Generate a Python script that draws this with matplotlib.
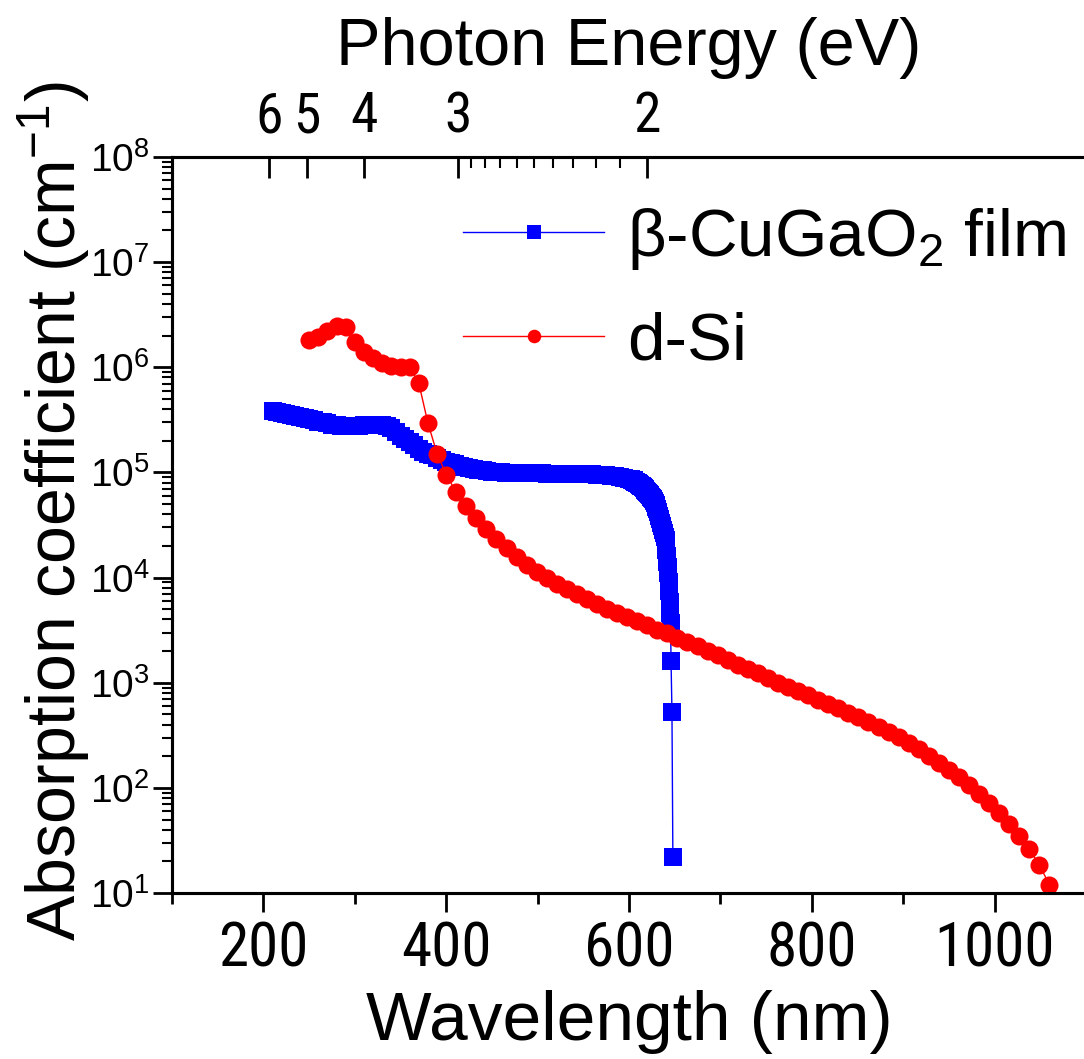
import numpy as np
import matplotlib
matplotlib.use('Agg')
import matplotlib.pyplot as plt
from matplotlib import font_manager as fm
from matplotlib.ticker import FixedLocator, LogLocator, NullFormatter

# ---------------- data ----------------
cugao_wl = [210, 215, 220, 225, 230, 235, 240, 245, 250, 255, 260, 265, 270, 275,
            280, 285, 290, 295, 300, 305, 310, 315, 320, 325, 330, 335, 340, 345,
            350, 355, 360, 365, 370, 375, 380, 385, 390, 395, 400, 405, 410, 415,
            420, 425, 430, 435, 440, 445, 450, 455, 460, 465, 470, 475, 480, 485,
            490, 495, 500, 505, 510, 515, 520, 525, 530, 535, 540, 545, 550, 555,
            560, 565, 570, 575, 580, 585, 590, 595, 600, 601, 602, 603, 604, 605,
            606, 607, 608, 609, 610, 611, 612, 613, 614, 615, 616, 617, 618, 619,
            620, 621, 622, 623, 624, 625, 626, 627, 628, 629, 630, 631, 632, 633,
            634, 635, 636, 637, 638, 639, 640, 640.5, 641, 641.5, 642, 642.5, 643,
            643.5, 644, 644.5, 645, 645.5, 646, 647, 648]
cugao_alpha = [3.80e5, 3.76e5, 3.67e5, 3.59e5, 3.51e5, 3.43e5, 3.35e5, 3.27e5, 3.20e5,
               3.13e5, 3.05e5, 2.99e5, 2.92e5, 2.85e5, 2.81e5, 2.77e5, 2.75e5, 2.75e5,
               2.77e5, 2.79e5, 2.81e5, 2.82e5, 2.83e5, 2.83e5, 2.82e5, 2.75e5, 2.63e5,
               2.45e5, 2.24e5, 2.09e5, 1.95e5, 1.82e5, 1.68e5, 1.58e5, 1.51e5, 1.45e5,
               1.38e5, 1.32e5, 1.27e5, 1.23e5, 1.19e5, 1.15e5, 1.12e5, 1.10e5, 1.07e5,
               1.06e5, 1.05e5, 1.035e5, 1.02e5, 1.01e5, 1.00e5, 9.95e4, 9.92e4, 9.90e4,
               9.88e4, 9.86e4, 9.84e4, 9.82e4, 9.80e4, 9.78e4, 9.76e4, 9.74e4, 9.72e4,
               9.70e4, 9.68e4, 9.66e4, 9.64e4, 9.62e4, 9.60e4, 9.58e4, 9.56e4, 9.54e4,
               9.50e4, 9.44e4, 9.33e4, 9.23e4, 9.12e4, 8.91e4, 8.71e4, 8.66e4, 8.60e4,
               8.54e4, 8.48e4, 8.41e4, 8.30e4, 8.18e4, 8.06e4, 7.96e4, 7.85e4, 7.73e4,
               7.61e4, 7.49e4, 7.36e4, 7.24e4, 7.10e4, 6.96e4, 6.82e4, 6.68e4, 6.53e4,
               6.36e4, 6.20e4, 6.04e4, 5.89e4, 5.75e4, 5.55e4, 5.35e4, 5.14e4, 4.92e4,
               4.68e4, 4.47e4, 4.17e4, 3.89e4, 3.63e4, 3.31e4, 3.09e4, 2.82e4, 2.63e4,
               2.45e4, 2.29e4, 2.05e4, 1.82e4, 1.60e4, 1.41e4, 1.25e4, 1.10e4, 9.1e3,
               7.41e3, 5.9e3, 4.57e3, 3.7e3, 1.62e3, 525, 22]

si_wl = [250, 260, 270, 280, 290, 300, 310, 320, 330, 340, 350, 360, 370, 380, 390,
         400, 411, 422, 433, 444, 455, 466, 477, 488, 499, 510, 521, 532, 543, 554,
         565, 576, 587, 598, 609, 620, 631, 642, 653, 664, 675, 686, 697, 708, 719,
         730, 741, 752, 763, 774, 785, 796, 807, 818, 829, 840, 851, 862, 873, 884,
         895, 906, 917, 928, 939, 950, 961, 972, 983, 994, 1005, 1016, 1027, 1038,
         1049, 1060]
si_alpha = [1.82e6, 1.95e6, 2.19e6, 2.45e6, 2.40e6, 1.74e6, 1.41e6, 1.23e6, 1.11e6,
            1.02e6, 1.00e6, 1.00e6, 7.08e5, 2.95e5, 1.51e5, 9.55e4, 6.46e4, 4.79e4,
            3.67e4, 2.88e4, 2.34e4, 1.91e4, 1.57e4, 1.32e4, 1.135e4, 1.00e4, 8.71e3,
            7.76e3, 6.92e3, 6.24e3, 5.62e3, 5.07e3, 4.62e3, 4.22e3, 3.85e3, 3.51e3,
            3.20e3, 2.95e3, 2.69e3, 2.45e3, 2.24e3, 2.02e3, 1.82e3, 1.64e3, 1.48e3,
            1.35e3, 1.23e3, 1.11e3, 1.00e3, 912, 832, 759, 692, 631, 572, 519, 470,
            425, 382, 343, 305, 269, 234, 202, 174, 148, 126, 106, 88, 72.4, 58.2,
            45.7, 35.1, 26.0, 18.4, 12.0]

x_major = [200, 400, 600, 800, 1000]
x_minor = [100, 300, 500, 700, 900, 1100]
energy_major = [6, 5, 4, 3, 2]
energy_minor = [2.1, 2.2, 2.3, 2.4, 2.5, 2.6, 2.7, 2.8, 2.9]
labels = ['\u03b2-CuGaO$_2$ film', 'd-Si']

# ---------------- style ----------------
names = {f.name for f in fm.fontManager.ttflist}
narrow = 'Liberation Sans'
for cand in ['Liberation Sans Narrow', 'Arial Narrow', 'Roboto Condensed', 'Archivo Narrow']:
    if cand in names:
        narrow = cand
        break

plt.rcParams['font.family'] = ['Liberation Sans', 'DejaVu Sans']
plt.rcParams['mathtext.fontset'] = 'custom'
plt.rcParams['mathtext.rm'] = 'Liberation Sans'
plt.rcParams['mathtext.it'] = 'Liberation Sans:italic'
plt.rcParams['mathtext.bf'] = 'Liberation Sans:bold'

W, H = 1084, 1059
fig = plt.figure(figsize=(W / 100, H / 100), dpi=100)
L, R, T, B = 172, 1086, 157, 893
ax = fig.add_axes([L / W, 1 - B / H, (R - L) / W, (B - T) / H])

ax.plot(cugao_wl, cugao_alpha, color='#0000FF', lw=1.0, marker='s', ms=12.5,
        mec='#0000FF', mew=0, label=labels[0], zorder=2)
ax.plot(si_wl, si_alpha, color='#FF0000', lw=1.0, marker='o', ms=13,
        mec='#FF0000', mew=0, label=labels[1], zorder=3)

ax.set_yscale('log')
ax.set_xlim(100, 1100)
ax.set_ylim(10, 1e8)

ax.xaxis.set_major_locator(FixedLocator(x_major))
ax.xaxis.set_minor_locator(FixedLocator(x_minor))
ax.set_xticks(x_major, [str(v) for v in x_major], fontfamily=narrow, fontsize=44)
ax.yaxis.set_major_locator(LogLocator(base=10, numticks=20))
ax.yaxis.set_minor_locator(LogLocator(base=10, subs=np.arange(2, 10), numticks=100))
ax.yaxis.set_minor_formatter(NullFormatter())

ax.tick_params(axis='x', which='major', direction='out', length=14, width=2, pad=6, top=False)
ax.tick_params(axis='x', which='minor', direction='out', length=8, width=2, top=False)
ax.tick_params(axis='y', which='major', direction='out', length=14, width=2, labelsize=28, pad=2, right=False)
ax.tick_params(axis='y', which='minor', direction='out', length=7, width=1.5, right=False)

for s in ax.spines.values():
    s.set_linewidth(2.2)

ax.set_xlabel('Wavelength (nm)', fontsize=50, labelpad=8)
ax.set_ylabel('Absorption coefficient (cm$^{-1}$)', fontsize=49)
ax.yaxis.set_label_coords(-0.088, 0.518)

ax2 = ax.twiny()
ax2.set_xlim(ax.get_xlim())
ax2.set_xticks([1240 / e for e in energy_major], [str(e) for e in energy_major],
               fontfamily=narrow, fontsize=40)
ax2.set_xticks([1240 / e for e in energy_minor], minor=True)
ax2.tick_params(axis='x', which='major', direction='in', length=15, width=2, pad=10)
ax2.tick_params(axis='x', which='minor', direction='in', length=8, width=1.5)
for s in ax2.spines.values():
    s.set_linewidth(2.2)
ax2.set_xlabel('Photon Energy (eV)', fontsize=48, labelpad=18)

ax.legend(loc='upper right', bbox_to_anchor=(0.978, 0.934), frameon=False, fontsize=48.5,
          handlelength=2.1, handletextpad=0.33, labelspacing=0.6, markerscale=0.75,
          borderpad=0, borderaxespad=0)

fig.savefig('out.png', dpi=100)
